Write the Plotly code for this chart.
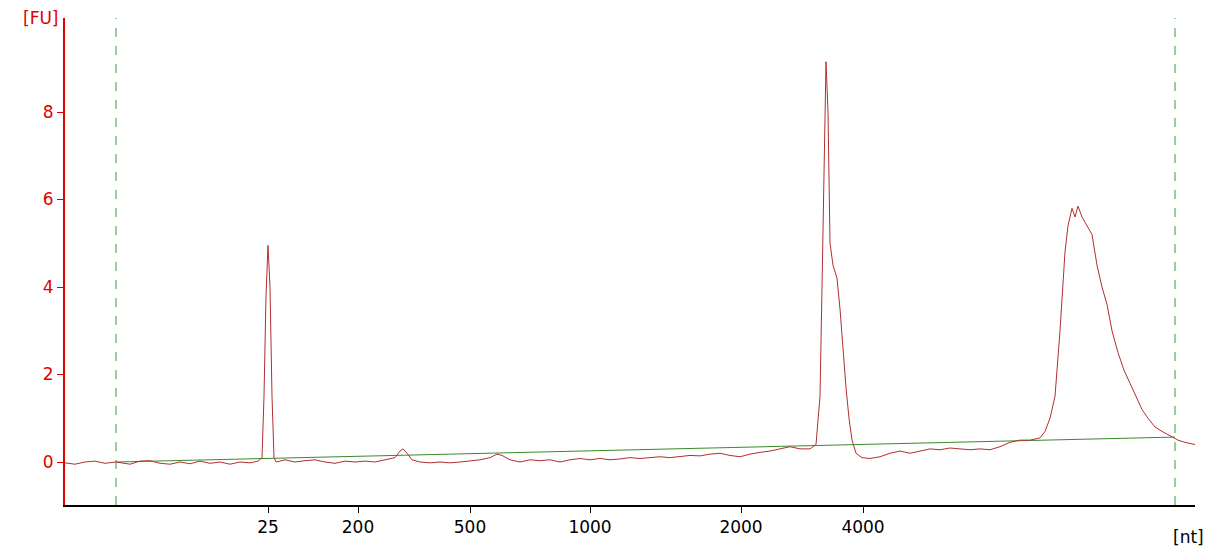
import plotly.graph_objects as go

# migration position (arbitrary units) and fluorescence [FU]
pos = [65, 75, 85, 95, 105, 116, 130, 140, 150, 160, 170, 180, 190, 200, 210, 220, 230, 240, 250, 258,
       262, 264, 266, 268, 270, 272, 274, 276, 285, 295, 305, 315, 325, 335, 345, 355, 365, 375, 385, 395,
       400, 403, 407, 412, 420, 430, 440, 450, 460, 470, 480, 490, 497, 502, 510, 520, 530, 540, 550, 560,
       570, 580, 590, 600, 610, 620, 630, 640, 650, 660, 670, 680, 690, 700, 710, 720, 730, 740, 750, 760,
       770, 780, 790, 800, 810, 816, 820, 822, 824, 826, 828, 830, 833, 837, 840, 843, 846, 849, 852, 856,
       862, 870, 880, 890, 900, 910, 920, 930, 940, 950, 960, 970, 980, 990, 1000, 1010, 1020, 1030, 1040, 1045,
       1050, 1055, 1060, 1065, 1068, 1072, 1075, 1078, 1082, 1087, 1092, 1097, 1102, 1107, 1112, 1118, 1124, 1130, 1136, 1142,
       1148, 1155, 1162, 1170, 1178, 1185, 1195]
fu = [-0.02, -0.05, 0.0, 0.02, -0.03, 0.0, -0.05, 0.02, 0.03, -0.03, -0.05, 0.0, -0.04, 0.02, -0.03, 0.0, -0.05, 0.0, -0.02, 0.02,
      0.1, 1.5, 3.8, 4.95, 4.0, 1.5, 0.1, 0.0, 0.05, 0.0, 0.03, 0.05, 0.0, -0.03, 0.02, 0.0, 0.02, 0.0, 0.05, 0.1,
      0.25, 0.3, 0.2, 0.05, 0.0, -0.02, 0.0, -0.02, 0.0, 0.02, 0.05, 0.1, 0.18, 0.15, 0.05, 0.0, 0.05, 0.03, 0.05, 0.0,
      0.05, 0.08, 0.05, 0.08, 0.05, 0.07, 0.1, 0.08, 0.1, 0.12, 0.1, 0.12, 0.15, 0.14, 0.18, 0.2, 0.15, 0.12, 0.18, 0.22,
      0.25, 0.3, 0.35, 0.3, 0.3, 0.4, 1.5, 4.0, 7.0, 9.15, 8.0, 5.0, 4.5, 4.2, 3.5, 2.5, 1.7, 1.0, 0.5, 0.2,
      0.1, 0.08, 0.12, 0.2, 0.25, 0.2, 0.25, 0.3, 0.28, 0.32, 0.3, 0.28, 0.3, 0.28, 0.35, 0.45, 0.5, 0.5, 0.55, 0.7,
      1.0, 1.5, 3.0, 4.8, 5.4, 5.8, 5.6, 5.85, 5.6, 5.4, 5.2, 4.5, 4.0, 3.6, 3.0, 2.5, 2.1, 1.8, 1.5, 1.2,
      1.0, 0.8, 0.7, 0.6, 0.5, 0.45, 0.4]

baseline_pos = [116, 1175]
baseline_fu = [0.0, 0.57]
markers = [116, 1175]

tick_pos = [268, 358, 470, 590, 741, 863]
tick_text = ["25", "200", "500", "1000", "2000", "4000"]

fig = go.Figure()
fig.add_trace(go.Scatter(x=baseline_pos, y=baseline_fu, mode="lines",
                         line=dict(color="#3a8a2a", width=1)))
fig.add_trace(go.Scatter(x=pos, y=fu, mode="lines",
                         line=dict(color="#b03030", width=1)))
for m in markers:
    fig.add_vline(x=m, line=dict(color="#3a9a3a", width=1, dash="dash"))

fig.add_annotation(x=0, y=1, xref="paper", yref="paper", text="[FU]", showarrow=False,
                   xanchor="right", yanchor="middle", xshift=-4, font=dict(color="#e00000", size=17))
fig.add_annotation(x=1, y=0, xref="paper", yref="paper", text="[nt]", showarrow=False,
                   xanchor="left", yanchor="top", yshift=-20, xshift=-24, font=dict(color="black", size=17))

fig.update_layout(
    width=1208, height=547, showlegend=False,
    paper_bgcolor="white", plot_bgcolor="white",
    margin=dict(l=57, r=21, t=10, b=50),
    font=dict(family="DejaVu Sans", size=17),
    xaxis=dict(range=[65, 1195], tickvals=tick_pos, ticktext=tick_text, showgrid=False, zeroline=False,
               showline=True, linecolor="black", linewidth=2, ticks="outside", ticklen=6,
               tickcolor="black", tickfont=dict(color="black")),
    yaxis=dict(range=[-0.983, 10.15], tickvals=[0, 2, 4, 6, 8], showgrid=False, zeroline=False,
               showline=True, linecolor="#e00000", linewidth=2, ticks="outside", ticklen=6,
               tickcolor="#e00000", tickfont=dict(color="#e00000")),
)
fig.write_html("out.html")
